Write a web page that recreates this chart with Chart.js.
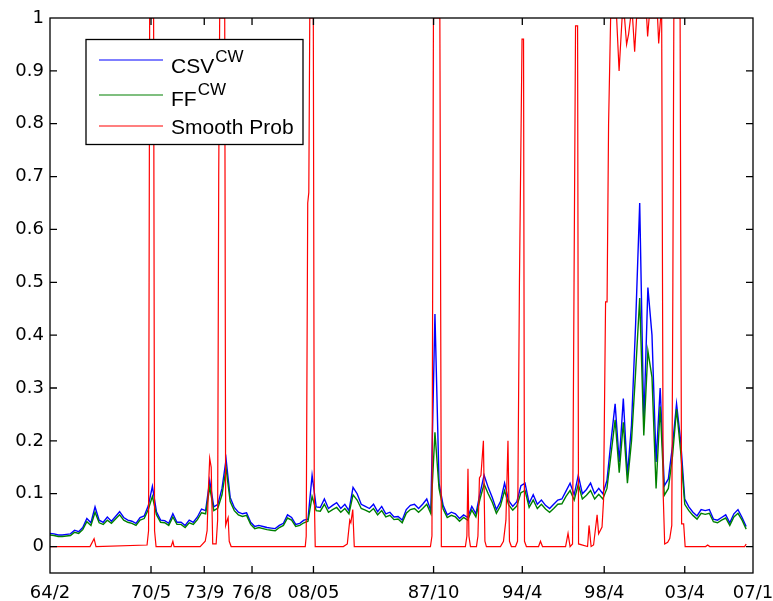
<!DOCTYPE html>
<html><head><meta charset="utf-8">
<script src="https://cdn.jsdelivr.net/npm/chart.js@4"></script>
<style>html,body{margin:0;padding:0;background:#fff}</style>
</head><body>
<canvas id="c" width="773" height="601"></canvas>
<script>
// x axis: months since 1964/2; observations every 3 months
const sampleStep = 3;
const tickMonths = [0, 74, 113, 148, 193, 281, 346, 406, 465, 515];
const tickLabels = ['64/2','70/5','73/9','76/8','08/05','87/10','94/4','98/4','03/4','07/1'];
const yTickValues = [0,0.1,0.2,0.3,0.4,0.5,0.6,0.7,0.8,0.9,1];

const csvValues = [
0.025,0.024,0.022,0.022,0.023,0.024,0.031,0.028,0.036,0.053,
0.045,0.075,0.050,0.046,0.056,0.048,0.057,0.066,0.055,0.050,
0.048,0.044,0.055,0.058,0.077,0.114,0.066,0.050,0.049,0.044,
0.062,0.046,0.046,0.040,0.050,0.046,0.056,0.071,0.068,0.125,
0.075,0.080,0.110,0.165,0.093,0.074,0.065,0.062,0.064,0.046,
0.038,0.040,0.038,0.036,0.035,0.034,0.040,0.044,0.060,0.055,
0.042,0.044,0.050,0.052,0.135,0.075,0.074,0.090,0.072,0.078,
0.083,0.072,0.080,0.068,0.112,0.100,0.080,0.076,0.072,0.080,
0.066,0.076,0.062,0.065,0.056,0.057,0.050,0.070,0.078,0.080,
0.072,0.080,0.090,0.068,0.440,0.120,0.078,0.060,0.065,0.062,
0.053,0.060,0.055,0.076,0.062,0.100,0.135,0.112,0.093,0.070,
0.085,0.120,0.087,0.076,0.085,0.115,0.120,0.082,0.098,0.080,
0.088,0.078,0.072,0.080,0.088,0.090,0.105,0.120,0.098,0.135,
0.100,0.108,0.120,0.100,0.110,0.100,0.125,0.200,0.270,0.160,
0.280,0.135,0.230,0.420,0.650,0.230,0.490,0.400,0.160,0.300,
0.115,0.128,0.190,0.270,0.200,0.090,0.075,0.065,0.058,0.070,
0.068,0.070,0.052,0.050,0.055,0.060,0.045,0.062,0.070,0.055,
0.038];

const ffValues = [
0.022,0.021,0.019,0.019,0.020,0.021,0.027,0.025,0.032,0.047,
0.040,0.065,0.045,0.042,0.050,0.044,0.052,0.060,0.050,0.046,
0.044,0.040,0.050,0.053,0.070,0.095,0.060,0.046,0.045,0.040,
0.056,0.042,0.042,0.036,0.045,0.042,0.051,0.064,0.062,0.112,
0.068,0.073,0.098,0.148,0.085,0.068,0.060,0.057,0.059,0.042,
0.034,0.036,0.034,0.032,0.031,0.030,0.036,0.040,0.054,0.050,
0.038,0.040,0.045,0.048,0.095,0.068,0.067,0.080,0.065,0.070,
0.074,0.065,0.072,0.062,0.098,0.088,0.072,0.069,0.065,0.072,
0.060,0.068,0.056,0.059,0.051,0.052,0.045,0.063,0.070,0.072,
0.065,0.072,0.080,0.062,0.216,0.110,0.071,0.055,0.059,0.056,
0.048,0.055,0.050,0.069,0.056,0.090,0.118,0.100,0.084,0.063,
0.077,0.106,0.079,0.069,0.077,0.102,0.106,0.074,0.088,0.072,
0.080,0.071,0.065,0.072,0.080,0.081,0.095,0.106,0.088,0.118,
0.090,0.097,0.106,0.090,0.099,0.090,0.110,0.175,0.240,0.140,
0.235,0.120,0.200,0.330,0.470,0.210,0.370,0.320,0.110,0.265,
0.097,0.110,0.170,0.260,0.180,0.080,0.068,0.059,0.052,0.063,
0.061,0.063,0.047,0.045,0.050,0.054,0.040,0.056,0.063,0.050,
0.033];

const probMonths = [0,29.3,32.3,33.7,71.1,72.2,73,75.9,76.6,77.7,88.7,90,90.9,110,113.7,115.1,115.9,117,118.1,119.2,121.7,122.8,123.6,124.3,128,128.7,129.8,130.5,131.3,132.7,187,187.7,188.8,189.6,190.3,192.9,193.6,194.3,214.9,217.8,219.6,220.4,221.8,222.9,278.7,279.8,280.9,285.6,286.7,304.3,305.4,306.2,306.9,308,312.4,313.5,314.6,315.7,317.5,318.6,319.7,330,332.2,334,335.5,336.6,338,341,342.5,343.9,345.8,346.9,347.6,349,357.9,359.3,360.8,377.7,379.5,381,382.8,383.9,385,386.5,387.2,393.8,394.9,396.4,398.2,400.8,401.9,404.4,405.5,407,408.1,409.2,410.7,415.1,416.9,419.1,420.9,422.4,423.9,425.3,426.8,428.3,429.7,437.1,437.8,438.9,445.1,445.9,447.3,448.1,449.2,450.3,452.5,454,455.5,456.3,457,461.6,462.7,464.2,465.3,480.3,481.8,483.3,508.9,510];
const probValues = [0,0,0.015,0,0.003,0.03,1,1,0.03,0,0,0.01,0,0,0.01,0.03,0.1,0.167,0.15,0.005,0.005,0.05,0.7,1,1,0.04,0.05,0.055,0.01,0,0,0.02,0.65,0.67,1,1,0.1,0,0,0.005,0.05,0.045,0.07,0,0,0.02,1,1,0,0,0.02,0.147,0.02,0,0,0.02,0.13,0.135,0.2,0.01,0,0,0.01,0.05,0.2,0.01,0,0,0.01,0.5,0.96,0.96,0.01,0,0,0.01,0,0,0.025,0,0.005,0.5,0.985,0.985,0.005,0,0.04,0,0.003,0.06,0.024,0.037,0.087,0.463,0.463,0.8,1,1,0.9,1,1,0.95,0.97,1,1,0.936,1,1,0.965,1,1,0.952,1,1,0.1,0.005,0.008,0.015,0.04,0.5,1,1,0.043,0.043,0,0,0.003,0,0,0.005];

const legendItems = [
  {base:'CSV', sup:'CW', color:'#0000ff'},
  {base:'FF', sup:'CW', color:'#008000'},
  {base:'Smooth Prob', sup:'', color:'#ff0000'}
];

const csvData = csvValues.map((v,i)=>({x:i*sampleStep, y:v}));
const ffData = ffValues.map((v,i)=>({x:i*sampleStep, y:v}));
const probData = probValues.map((v,i)=>({x:probMonths[i], y:v}));

const framePlugin = {
  id:'frame',
  afterDatasetsDraw(chart){
    const {ctx, chartArea:a, scales:{x,y}} = chart;
    ctx.save();
    ctx.strokeStyle = '#000';
    ctx.lineWidth = 1.3;
    ctx.strokeRect(a.left, a.top, a.right-a.left, a.bottom-a.top);
    ctx.beginPath();
    tickMonths.forEach(m=>{
      const px = x.getPixelForValue(m);
      if (px <= a.left+1 || px >= a.right-1) return;
      ctx.moveTo(px, a.bottom); ctx.lineTo(px, a.bottom-7);
      ctx.moveTo(px, a.top); ctx.lineTo(px, a.top+7);
    });
    yTickValues.forEach(v=>{
      const py = y.getPixelForValue(v);
      if (py <= a.top+1) return;
      ctx.moveTo(a.left, py); ctx.lineTo(a.left+7, py);
      ctx.moveTo(a.right, py); ctx.lineTo(a.right-7, py);
    });
    ctx.stroke();
    ctx.restore();
  },
  afterDraw(chart){
    const ctx = chart.ctx;
    ctx.save();
    const bx = 86, by = 39.5, bw = 217, bh = 105;
    ctx.fillStyle = '#fff';
    ctx.fillRect(bx, by, bw, bh);
    ctx.strokeStyle = '#000';
    ctx.lineWidth = 1.3;
    ctx.strokeRect(bx, by, bw, bh);
    const lineYs = [60, 95, 126];
    const baseYs = [72.7, 106, 134];
    ctx.textBaseline = 'alphabetic';
    legendItems.forEach((it,i)=>{
      ctx.strokeStyle = it.color;
      ctx.lineWidth = 1.2;
      ctx.beginPath(); ctx.moveTo(99, lineYs[i]); ctx.lineTo(163, lineYs[i]); ctx.stroke();
      ctx.fillStyle = '#000';
      ctx.font = '21px "Liberation Sans", Arial, sans-serif';
      ctx.fillText(it.base, 171, baseYs[i]);
      const w = ctx.measureText(it.base).width;
      if (it.sup) {
        ctx.font = '17px "Liberation Sans", Arial, sans-serif';
        ctx.fillText(it.sup, 171 + w + 1, baseYs[i] - 11);
      }
    });
    ctx.restore();
  }
};

new Chart(document.getElementById('c'), {
  type:'line',
  data:{datasets:[
    {label:'Smooth Prob', data:probData, borderColor:'#ff0000', borderWidth:1.2, pointRadius:0, tension:0, order:0},
    {label:'FF', data:ffData, borderColor:'#008000', borderWidth:1.4, pointRadius:0, tension:0, order:1},
    {label:'CSV', data:csvData, borderColor:'#0000ff', borderWidth:1.4, pointRadius:0, tension:0, order:2}
  ]},
  options:{
    responsive:false, animation:false, devicePixelRatio:1,
    layout:{padding:{left:0, right:20, top:18, bottom:0}},
    plugins:{legend:{display:false}, tooltip:{enabled:false}},
    scales:{
      x:{type:'linear', min:0, max:515,
        grid:{display:false, drawTicks:false}, border:{display:false},
        afterBuildTicks:(s)=>{ s.ticks = tickMonths.map(v=>({value:v})); },
        afterFit:(s)=>{ s.height = 28; s.paddingLeft = 0; s.paddingRight = 0; },
        ticks:{autoSkip:false, maxRotation:0, minRotation:0, padding:10, color:'#000',
          font:{family:'"DejaVu Sans"', size:18},
          callback:(v)=>{ const k = tickMonths.indexOf(v); return k>=0 ? tickLabels[k] : ''; }}
      },
      y:{type:'linear', min:-0.05, max:1,
        grid:{display:false, drawTicks:false}, border:{display:false},
        afterBuildTicks:(s)=>{ s.ticks = yTickValues.map(v=>({value:v})); },
        afterFit:(s)=>{ s.width = 50; s.paddingTop = 0; s.paddingBottom = 0; },
        ticks:{padding:6, color:'#000', font:{family:'"DejaVu Sans"', size:18},
          callback:(v)=> String(Math.round(v*10)/10)}
      }
    }
  },
  plugins:[framePlugin]
});
</script>
</body></html>
